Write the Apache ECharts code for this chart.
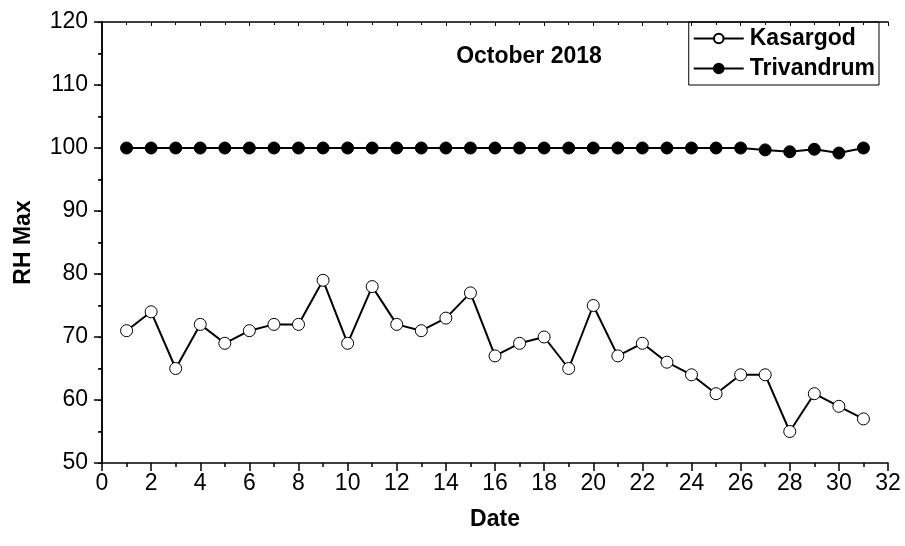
<!DOCTYPE html>
<html><head><meta charset="utf-8">
<script src="https://cdn.jsdelivr.net/npm/echarts@6/dist/echarts.min.js"></script>
<style>html,body{margin:0;padding:0;background:#fff}#c{width:905px;height:546px}</style>
</head><body><div id="c"></div>
<script>
const dates = [1,2,3,4,5,6,7,8,9,10,11,12,13,14,15,16,17,18,19,20,21,22,23,24,25,26,27,28,29,30,31];
const kasargod = [71,74,65,72,69,71,72,72,79,69,78,72,71,73,77,67,69,70,65,75,67,69,66,64,61,64,64,55,61,59,57];
const trivandrum = [100,100,100,100,100,100,100,100,100,100,100,100,100,100,100,100,100,100,100,100,100,100,100,100,100,100,99.7,99.4,99.8,99.2,100];
const titleText = 'October 2018';

const F = 'Liberation Sans, Arial, sans-serif';
const chart = echarts.init(document.getElementById('c'));
const axLine = {show:true, lineStyle:{color:'#000', width:1.5}};
chart.setOption({
  animation:false,
  backgroundColor:'#fff',
  title:{text:titleText, left:524, top:40, textAlign:'center',
    textStyle:{fontFamily:F, fontWeight:'bold', fontSize:23, color:'#000'}},
  legend:{
    right:26, top:22, orient:'vertical', itemGap:7, itemWidth:50, itemHeight:12,
    borderColor:'#000', borderWidth:1, padding:[5,4,5,4],
    textStyle:{fontFamily:F, fontWeight:'bold', fontSize:23, color:'#000', padding:[0,0,0,1]},
    data:['Kasargod','Trivandrum']
  },
  grid:{left:102, right:17, top:22, bottom:83},
  xAxis:[{
    type:'value', min:0, max:32, interval:2,
    name:'Date', nameLocation:'middle', nameGap:45,
    nameTextStyle:{fontFamily:F, fontWeight:'bold', fontSize:23, color:'#000'},
    axisLine:axLine, axisTick:{show:true, inside:false, length:8, lineStyle:{color:'#000', width:1.5}},
    minorTick:{show:true, splitNumber:2, length:4, lineStyle:{color:'#000', width:1.5}},
    axisLabel:{fontFamily:F, fontSize:23, color:'#000', margin:9},
    splitLine:{show:false}
  },{
    type:'value', min:0, max:32, interval:2, position:'top',
    axisLine:axLine, axisTick:{show:true, inside:true, length:4, lineStyle:{color:'#000'}},
    minorTick:{show:true, splitNumber:2, length:3, lineStyle:{color:'#000'}},
    axisLabel:{show:false}, splitLine:{show:false}
  }],
  yAxis:[{
    type:'value', min:50, max:120, interval:10,
    name:'RH Max', nameLocation:'middle', nameGap:67,
    nameTextStyle:{fontFamily:F, fontWeight:'bold', fontSize:23, color:'#000'},
    axisLine:axLine, axisTick:{show:true, inside:false, length:8, lineStyle:{color:'#000', width:1.5}},
    minorTick:{show:true, splitNumber:2, length:4, lineStyle:{color:'#000', width:1.5}},
    axisLabel:{fontFamily:F, fontSize:23, color:'#000', margin:14},
    splitLine:{show:false}
  },{
    type:'value', min:50, max:120, interval:10, position:'right',
    axisLine:axLine, axisTick:{show:true, inside:true, length:4, lineStyle:{color:'#000'}},
    minorTick:{show:true, splitNumber:2, length:3, lineStyle:{color:'#000'}},
    axisLabel:{show:false}, splitLine:{show:false}
  }],
  series:[{
    name:'Kasargod', type:'line', data:dates.map((d,i)=>[d,kasargod[i]]),
    symbol:'circle', symbolSize:12, showAllSymbol:true,
    lineStyle:{color:'#000', width:2},
    itemStyle:{color:'#fff', borderColor:'#000', borderWidth:1},
    z:3
  },{
    name:'Trivandrum', type:'line', data:dates.map((d,i)=>[d,trivandrum[i]]),
    symbol:'circle', symbolSize:12, showAllSymbol:true,
    lineStyle:{color:'#000', width:2},
    itemStyle:{color:'#000', borderColor:'#000', borderWidth:1},
    z:3
  }]
});
</script></body></html>
